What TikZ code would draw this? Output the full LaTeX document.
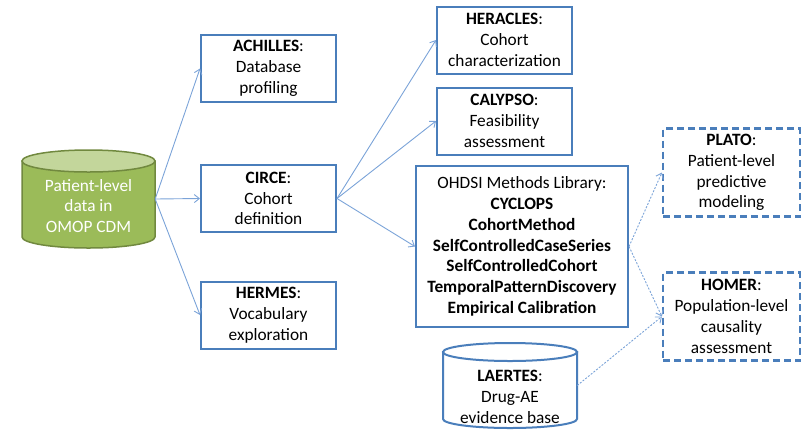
\documentclass[tikz,border=0pt]{standalone}
\usepackage{fontspec}
\setmainfont{Carlito}
\usetikzlibrary{arrows.meta}
\definecolor{boxblue}{HTML}{4A7EBB}
\definecolor{lineblue}{HTML}{7BA3D8}
\definecolor{cylgreen}{HTML}{9BBB59}
\definecolor{cyltop}{HTML}{C3D69B}
\definecolor{cylborder}{HTML}{71893F}
\begin{document}
\begin{tikzpicture}[x=1pt,y=-1pt,
  every node/.style={font=\fontsize{17.3}{20.8}\selectfont, align=center, inner sep=0pt},
  tool/.style={draw=boxblue, line width=2pt, minimum width=135pt, minimum height=67pt},
  future/.style={draw=boxblue, line width=2.2pt, dash pattern=on 7pt off 4pt, minimum width=137pt, minimum height=88pt},
  link/.style={draw=lineblue, line width=0.9pt, -{Straight Barb[length=5pt,width=8pt]}},
  plan/.style={link, dash pattern=on 2pt off 1.5pt},
]
\useasboundingbox (0,0) rectangle (808,440);
% green source cylinder
\node[minimum width=133pt, minimum height=98pt] (data) at (88.5,199) {};
\path[fill=cylgreen, draw=cylborder, line width=1.5pt]
  (22,161) -- (22,237) arc[start angle=180, end angle=360, x radius=66.5pt, y radius=11pt] -- (155,161) -- cycle;
\path[fill=cyltop, draw=cylborder, line width=1.5pt] (88.5,161) ellipse [x radius=66.5pt, y radius=11pt];
\node[text=white] (datatext) at (88.5,206) {Patient-level\\data in\\OMOP CDM};
% tools
\node[tool] (achilles) at (268.5,68.5) {\textbf{ACHILLES}:\\Database\\profiling};
\node[tool] (circe) at (268.5,198.5) {\textbf{CIRCE}:\\Cohort\\definition};
\node[tool] (hermes) at (268.5,315) {\textbf{HERMES}:\\Vocabulary\\exploration};
\node[tool] (heracles) at (504.5,40) {\textbf{HERACLES}:\\Cohort\\characterization};
\node[tool] (calypso) at (504.5,121) {\textbf{CALYPSO}:\\Feasibility\\assessment};
\node[tool, minimum width=212pt, minimum height=161pt] (ohdsi) at (522,246.5)
  {OHDSI Methods Library:\\\textbf{CYCLOPS}\\\textbf{CohortMethod}\\\textbf{SelfControlledCaseSeries}\\\textbf{SelfControlledCohort}\\\textbf{TemporalPatternDiscovery}\\\textbf{Empirical Calibration}};
% LAERTES cylinder
\node[minimum width=134pt, minimum height=85pt] (laertes) at (510,385.5) {};
\path[fill=white, draw=boxblue, line width=2pt]
  (443,352) -- (443,419) arc[start angle=180, end angle=360, x radius=67pt, y radius=9pt] -- (577,352) -- cycle;
\path[fill=white, draw=boxblue, line width=2pt] (510,352) ellipse [x radius=67pt, y radius=9pt];
\node (laertestext) at (510,397) {\textbf{LAERTES}:\\Drug-AE\\evidence base};
\node[future] (plato) at (731.5,172.5) {\textbf{PLATO}:\\Patient-level\\predictive\\modeling};
\node[future] (homer) at (731.5,316.5) {\textbf{HOMER}:\\Population-level\\causality\\assessment};
% connectors
\draw[link] (data.east) -- (achilles.west);
\draw[link] (data.east) -- (circe.west);
\draw[link] (data.east) -- (hermes.west);
\draw[link] (circe.east) -- (heracles.west);
\draw[link] (circe.east) -- (calypso.west);
\draw[link] (circe.east) -- (ohdsi.west);
\draw[plan] (ohdsi.east) -- (plato.west);
\draw[plan] (ohdsi.east) -- (homer.west);
\draw[plan] (laertes.east) -- (homer.west);
\end{tikzpicture}
\end{document}
